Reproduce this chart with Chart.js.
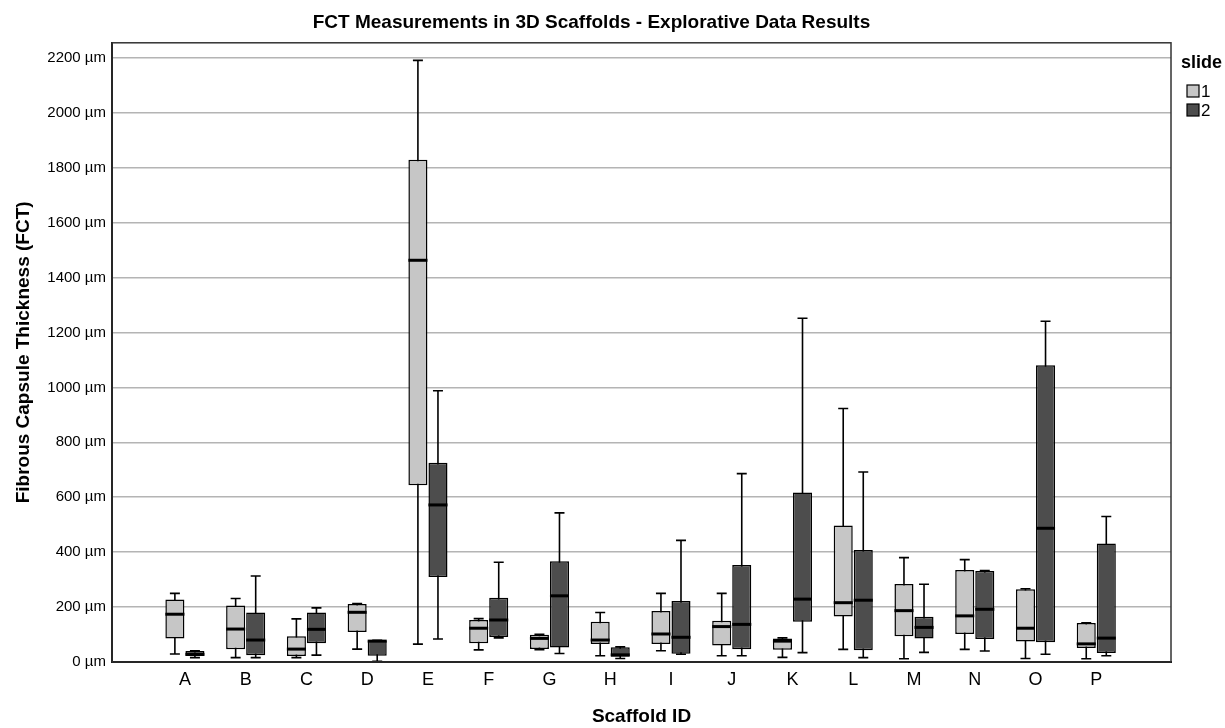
<!DOCTYPE html>
<html>
<head>
<meta charset="utf-8">
<script src="https://cdn.jsdelivr.net/npm/chart.js@4.4.1/dist/chart.umd.min.js"></script>
<style>
  html, body { margin: 0; padding: 0; background: #fff; }
  #wrap { width: 1225px; height: 728px; }
</style>
</head>
<body>
<div id="wrap"><canvas id="myBoxChart"></canvas></div>
<script>
var scaffolds = ["A", "B", "C", "D", "E", "F", "G", "H", "I", "J", "K", "L", "M", "N", "O", "P"];
var slideNames = ["1", "2"];

// slide 1 box statistics (µm)
var s1Min = [29, 16, 16, 47, 65, 44, 45, 23, 41, 23, 17, 46, 12, 46, 13, 12];
var s1Q1  = [86, 46, 22, 109, 644, 68, 47, 66, 66, 60, 45, 166, 94, 102, 75, 51];
var s1Med = [174, 120, 47, 181, 1463, 123, 86, 80, 102, 129, 76, 216, 187, 168, 123, 66];
var s1Q3  = [228, 206, 94, 211, 1829, 153, 99, 147, 186, 150, 86, 497, 284, 335, 265, 142];
var s1Max = [250, 231, 157, 213, 2191, 158, 101, 180, 250, 250, 88, 923, 380, 373, 267, 143];

// slide 2 box statistics (µm)
var s2Min = [16, 16, 25, 3, 84, 88, 31, 13, 28, 23, 34, 16, 35, 40, 28, 23];
var s2Q1  = [22, 25, 68, 23, 310, 91, 53, 19, 30, 46, 147, 43, 86, 84, 72, 33];
var s2Med = [28, 80, 119, 76, 572, 153, 241, 26, 90, 137, 229, 225, 126, 192, 487, 87];
var s2Q3  = [40, 180, 180, 78, 726, 234, 367, 54, 222, 353, 617, 408, 165, 331, 1081, 432];
var s2Max = [41, 313, 197, 79, 988, 363, 543, 55, 443, 686, 1252, 692, 283, 333, 1241, 530];

var yTicks = [0, 200, 400, 600, 800, 1000, 1200, 1400, 1600, 1800, 2000, 2200];

var fontFamily = '"Liberation Sans", Arial, sans-serif';

function boxData(q1, q3){
    var out = [];
    for (var i = 0; i < scaffolds.length; i++){
        out.push({x: i, y: [q1[i], q3[i]]});
    }
    return out;
}

var stats = [
    {min: s1Min, med: s1Med, max: s1Max},
    {min: s2Min, med: s2Med, max: s2Max}
];

// whiskers under the boxes, medians on top
var boxPlotLines = {
    id: 'boxPlotLines',
    beforeDatasetsDraw: function(chart){
        var ctx = chart.ctx, y = chart.scales.y;
        ctx.save();
        ctx.strokeStyle = '#000';
        ctx.lineWidth = 1.6;
        chart.data.datasets.forEach(function(ds, d){
            var meta = chart.getDatasetMeta(d);
            meta.data.forEach(function(bar, i){
                var yMin = y.getPixelForValue(stats[d].min[i]);
                var yMax = y.getPixelForValue(stats[d].max[i]);
                ctx.beginPath();
                ctx.moveTo(bar.x, yMin); ctx.lineTo(bar.x, yMax);
                ctx.moveTo(bar.x - 5, yMin); ctx.lineTo(bar.x + 5, yMin);
                ctx.moveTo(bar.x - 5, yMax); ctx.lineTo(bar.x + 5, yMax);
                ctx.stroke();
            });
        });
        ctx.restore();
    },
    afterDatasetsDraw: function(chart){
        var ctx = chart.ctx, y = chart.scales.y, a = chart.chartArea;
        ctx.save();
        ctx.strokeStyle = '#000';
        ctx.lineWidth = 3;
        chart.data.datasets.forEach(function(ds, d){
            var meta = chart.getDatasetMeta(d);
            meta.data.forEach(function(bar, i){
                var ym = y.getPixelForValue(stats[d].med[i]);
                ctx.beginPath();
                ctx.moveTo(bar.x - bar.width / 2, ym);
                ctx.lineTo(bar.x + bar.width / 2, ym);
                ctx.stroke();
            });
        });
        // plot frame
        ctx.lineWidth = 1.5;
        ctx.strokeStyle = '#333';
        ctx.strokeRect(a.left, a.top, a.right - a.left, a.bottom - a.top);
        ctx.restore();
    },
    afterDraw: function(chart){
        // legend: "slide" with the two fills
        var ctx = chart.ctx, a = chart.chartArea;
        var lx = a.right + 10;
        ctx.save();
        ctx.fillStyle = '#000';
        ctx.font = 'bold 18px ' + fontFamily;
        ctx.textBaseline = 'middle';
        ctx.fillText('slide', lx, 63);
        ctx.font = '17px ' + fontFamily;
        chart.data.datasets.forEach(function(ds, d){
            var cy = 91 + d * 19;
            ctx.fillStyle = ds.backgroundColor;
            ctx.fillRect(lx + 6, cy - 6, 12, 12);
            ctx.lineWidth = 1.2;
            ctx.strokeStyle = '#000';
            ctx.strokeRect(lx + 6, cy - 6, 12, 12);
            ctx.fillStyle = '#000';
            ctx.fillText(ds.label, lx + 20, cy + 1);
        });
        ctx.restore();
    }
};

new Chart(document.getElementById("myBoxChart"), {
    type: 'bar',
    data: {
        datasets: [{
            label: slideNames[0],
            data: boxData(s1Q1, s1Q3),
            backgroundColor: '#c6c6c6',
            borderColor: '#000',
            borderWidth: 1.5,
            borderSkipped: false,
            categoryPercentage: 0.66,
            barPercentage: 0.95
        }, {
            label: slideNames[1],
            data: boxData(s2Q1, s2Q3),
            backgroundColor: '#4d4d4d',
            borderColor: '#000',
            borderWidth: 1.5,
            borderSkipped: false,
            categoryPercentage: 0.66,
            barPercentage: 0.95
        }]
    },
    plugins: [boxPlotLines],
    options: {
        responsive: true,
        maintainAspectRatio: false,
        animation: false,
        layout: { padding: { left: 12, right: 54, top: 0, bottom: 0 } },
        plugins: {
            legend: { display: false },
            tooltip: { enabled: false },
            title: {
                display: true,
                text: 'FCT Measurements in 3D Scaffolds - Explorative Data Results',
                color: '#000',
                font: { family: fontFamily, size: 19, weight: 'bold' },
                padding: { top: 11, bottom: 9 }
            }
        },
        scales: {
            x: {
                type: 'linear',
                min: -1.2,
                max: 16.23,
                offset: false,
                grid: { display: false, drawTicks: false },
                border: { display: true, color: '#000', width: 2 },
                afterFit: function(scale){ scale.height = 66; },
                afterBuildTicks: function(scale){
                    scale.ticks = scaffolds.map(function(c, i){ return {value: i}; });
                },
                ticks: {
                    autoSkip: false,
                    maxRotation: 0,
                    padding: 7,
                    color: '#000',
                    font: { family: fontFamily, size: 18 },
                    callback: function(v){ return scaffolds[v]; }
                },
                title: {
                    display: true,
                    text: 'Scaffold ID',
                    color: '#000',
                    font: { family: fontFamily, size: 19, weight: 'bold' },
                    padding: { top: 0, bottom: 0 }
                }
            },
            y: {
                min: 0,
                max: 2255,
                grid: { color: '#b4b4b4', lineWidth: 1.5, drawTicks: false },
                border: { display: true, color: '#000', width: 2 },
                afterFit: function(scale){ scale.width = 100; },
                afterBuildTicks: function(scale){
                    scale.ticks = yTicks.map(function(v){ return {value: v}; });
                },
                ticks: {
                    padding: 6,
                    color: '#000',
                    font: { family: fontFamily, size: 15 },
                    callback: function(v){ return v + ' µm'; }
                },
                title: {
                    display: true,
                    text: 'Fibrous Capsule Thickness (FCT)',
                    color: '#000',
                    font: { family: fontFamily, size: 19, weight: 'bold' },
                    padding: { top: 0, bottom: 0 }
                }
            }
        }
    }
});
</script>
</body>
</html>
